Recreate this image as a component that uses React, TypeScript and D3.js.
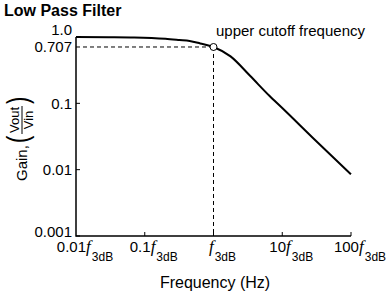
import React from "react";
import * as d3 from "d3";

const freqRatio = [0.01, 0.03, 0.07, 0.2, 0.32, 0.45, 0.64, 1, 1.77, 3.4, 6.5, 10, 30, 100];
const gain = [1.0, 0.995, 0.985, 0.94, 0.9, 0.87, 0.8, 0.707, 0.51, 0.26, 0.13, 0.085, 0.028, 0.0085];

const xTicks = [0.01, 0.1, 1, 10, 100];
const xTickCoef = ["0.01", "0.1", "", "10", "100"];
const yTicks = [1, 0.707, 0.1, 0.01, 0.001];
const yTickLabels = ["1.0", "0.707", "0.1", "0.01", "0.001"];

const cutoffFreq = 1;
const cutoffGain = 0.707;

const W = 391, H = 293;
const L = 76, R = 351, T = 37, B = 236;
const SANS = "Arial, 'Liberation Sans', sans-serif";

export default function App() {
  const x = d3.scaleLog().domain([0.01, 100]).range([L, R]);
  const y = d3.scaleLog().domain([0.001, 1]).range([B, T]);
  const pts = freqRatio.map((f, i) => [f, gain[i]] as [number, number]);
  const line = d3.line<[number, number]>().x(d => x(d[0])).y(d => y(d[1])).curve(d3.curveMonotoneX);
  const labelY = (i: number, t: number) => (i === 0 ? 35 : i === 4 ? 237 : y(t) + 5.5);

  return (
    <svg width={W} height={H} style={{ position: "absolute", left: 0, top: 0, background: "#fff" }}>
      <rect width={W} height={H} fill="#fff" />
      <text x={4} y={16} fontFamily={SANS} fontWeight="bold" fontSize={16}>Low Pass Filter</text>

      {/* dashed cutoff lines */}
      <line x1={L} x2={x(cutoffFreq)} y1={y(cutoffGain)} y2={y(cutoffGain)} stroke="#000" strokeDasharray="4,3" />
      <line x1={x(cutoffFreq)} x2={x(cutoffFreq)} y1={y(cutoffGain)} y2={B} stroke="#000" strokeDasharray="4,3" />

      {/* curve */}
      <path d={line(pts) || ""} fill="none" stroke="#000" strokeWidth={2} />

      {/* axes */}
      <path d={`M${L},${T}V${B}H${R}`} fill="none" stroke="#000" strokeWidth={1.5} />
      {yTicks.map((t, i) => (
        <g key={"y" + i}>
          {i > 1 && <line x1={L} x2={L + 4} y1={y(t)} y2={y(t)} stroke="#000" />}
          <text x={72} y={labelY(i, t)} textAnchor="end" fontFamily={SANS} fontSize={15}>{yTickLabels[i]}</text>
        </g>
      ))}
      {xTicks.map((t, i) => (
        <g key={"x" + i}>
          {i > 0 && <line x1={x(t)} x2={x(t)} y1={B} y2={B - 4} stroke="#000" />}
          <text x={x(t) + 9} y={252} textAnchor="middle" fontFamily={SANS} fontSize={15}>
            {xTickCoef[i]}
            <tspan fontFamily="'Liberation Serif', serif" fontStyle="italic" fontSize={17}>f</tspan>
            <tspan fontSize={12} dy={9} dx={1}>3dB</tspan>
          </text>
        </g>
      ))}

      {/* cutoff marker */}
      <circle cx={x(cutoffFreq)} cy={y(cutoffGain)} r={3.5} fill="#fff" stroke="#000" />
      <text x={216} y={36} fontFamily={SANS} fontSize={15}>upper cutoff frequency</text>

      {/* axis titles */}
      <text x={215} y={288} textAnchor="middle" fontFamily={SANS} fontSize={16}>Frequency (Hz)</text>
      <g transform="translate(27,181) rotate(-90)" fontFamily={SANS}>
        <text x={0} y={0} fontSize={15}>Gain,</text>
        <text x={38} y={-1} fontSize={22} fontWeight="100" transform="translate(38,-8) scale(1,1.35) translate(-38,8)">(</text>
        <text x={61} y={-8} fontSize={13} textAnchor="middle">Vout</text>
        <line x1={47} x2={75} y1={-5} y2={-5} stroke="#000" />
        <text x={61} y={6} fontSize={13} textAnchor="middle">Vin</text>
        <text x={77} y={-1} fontSize={22} fontWeight="100" transform="translate(77,-8) scale(1,1.35) translate(-77,8)">)</text>
      </g>
    </svg>
  );
}
